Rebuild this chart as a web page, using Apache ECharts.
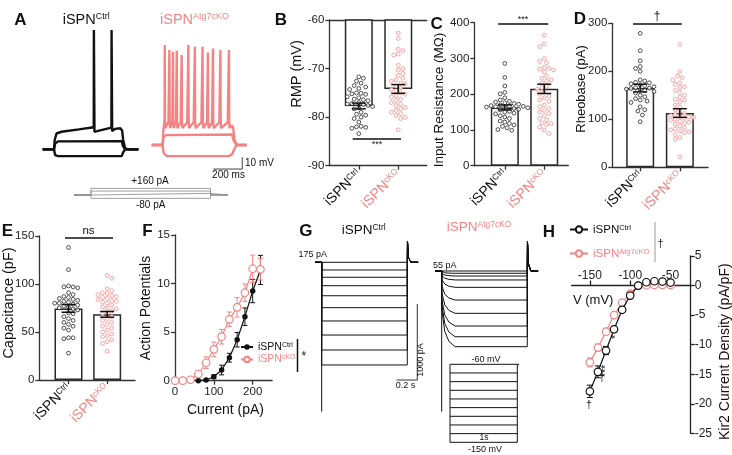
<!DOCTYPE html>
<html>
<head>
<meta charset="utf-8">
<script src="https://cdn.jsdelivr.net/npm/echarts@6.0.0/dist/echarts.min.js"></script>
<style>html,body{margin:0;padding:0;background:#fff;}#chart{width:732px;height:455px;}</style>
</head>
<body>
<div id="chart"></div>
<script>
// ================= DATA =================
const groupPos = [1, 2];
const groupMain = ['iSPN', 'iSPN'];
const groupSup = ['Ctrl', 'cKO'];

// B: RMP (mV)
const rmpMean = [-77.7, -74.2];
const rmpSem = [0.6, 0.9];
const rmpCtrl = [-71.7,-72.0,-72.6,-73.0,-73.5,-73.8,-74.1,-74.3,-75.0,-75.1,-75.2,-75.3,-75.8,-76.0,-76.3,-76.4,-76.6,-77.0,-77.2,-77.3,-77.4,-77.6,-77.8,-78.1,-78.3,-79.0,-79.4,-79.6,-80.0,-80.3,-81.0,-81.9,-82.0,-82.1,-82.3,-83.4];
const rmpCko = [-62.7,-63.8,-66.0,-66.3,-67.0,-67.2,-69.3,-70.0,-70.3,-71.0,-71.4,-72.0,-72.3,-72.6,-73.0,-73.2,-73.6,-74.0,-74.3,-74.6,-75.0,-75.3,-75.6,-75.8,-76.3,-76.6,-77.0,-77.3,-77.6,-78.0,-78.3,-78.6,-79.0,-79.3,-79.6,-80.0,-80.3,-82.6];
// C: Input resistance (MOhm)
const rinMean = [163, 215];
const rinSem = [7, 13];
const rinCtrl = [286,247,223,205,201,190,184,180,178,176,174,172,170,168,167,166,165,164,163,162,160,158,156,152,150,147,145,140,136,132,125,122,118,114,110,106,101,99];
const rinCko = [365,341,333,300,292,288,275,272,270,268,262,250,245,240,236,232,222,218,214,206,200,195,190,184,180,170,165,160,155,150,146,140,132,128,120,118,115,108,100,90];
// D: Rheobase (pA)
const rheoMean = [165, 113];
const rheoSem = [8, 9];
const rheoCtrl = [279,243,222,210,206,200,182,180,177,176,174,172,170,168,166,165,164,163,162,160,158,155,150,147,143,140,138,135,126,120,117,109,95];
const rheoCko = [256,199,190,187,182,176,173,168,166,160,156,150,146,142,140,136,130,126,120,116,112,110,108,106,105,104,102,100,98,96,94,92,90,86,82,80,78,76,74,72,68,62,58,22];
// E: Capacitance (pF)
const capMean = [74.6, 68.4];
const capSem = [4, 3];
const capCtrl = [138,115,98,97,97,96,91,89,87,86,85,84,83,82,81,80,80,79,78,77,76,75,74,73,70,69,66,64,62,60,58,56,54,52,44,44,43,28];
const capCko = [109,106,95,93,91,90,89,88,87,86,85,84,83,82,81,80,78,76,75,74,72,70,69,66,64,62,60,58,56,54,52,50,48,46,45,42,40,38,30];
// F: Action potentials vs current
const fCurrent = [0,20,40,60,80,100,120,140,160,180,200,220];
const fCtrl = [0,0,0,0,0.07,0.41,1.1,2.37,4.22,6.59,9.23,11.4];
const fCtrlSem = [0,0,0,0,0.05,0.2,0.5,0.45,0.75,0.9,1.2,1.5];
const fCko = [0,0,0.1,0.69,1.85,3.23,4.53,6.32,7.55,9.06,11.53,11.47];
const fCkoSem = [0,0,0.1,0.35,0.6,0.75,0.75,0.75,1.0,0.9,1.4,1.1];
// H: Kir2 current density (pA/pF) vs V (mV)
const hVolt = [-150,-140,-130,-120,-110,-100,-90,-80,-70,-60,-50];
const hCtrl = [-17.9,-14.6,-11.0,-7.4,-4.1,-1.7,0,0.56,0.73,0.68,0.51];
const hCtrlSem = [1.05,1.0,0.7,0.5,0.35,0.25,0.1,0.1,0.1,0.1,0.1];
const hCko = [-13.0,-10.5,-7.8,-5.0,-2.9,-1.35,0,0.05,0.1,0.1,0.1];
const hCkoSem = [0.75,0.6,0.5,0.4,0.3,0.2,0.1,0.1,0.1,0.1,0.1];

// A: example voltage traces [ms, mV]
const aCtrlTop = [[0,-80],[78,-80],[83,-72],[95,-66.5],[130,-65],[250,-63],[352,-61.2],[353,22],[356,22],[357,-65],[375,-64.5],[474,-61.5],[475,22],[478,22],[479,-64.5],[500,-62.5],[535,-62],[548,-64],[555,-72],[568,-79],[585,-80],[660,-80]];
const aCtrlMid = [[0,-80],[78,-80],[86,-75],[105,-73.2],[545,-73],[553,-77],[568,-80],[660,-80]];
const aCtrlLow = [[0,-80],[78,-80],[86,-85],[105,-85.8],[545,-85.8],[553,-83],[568,-80],[660,-80]];
const aCkoTop = [[0,-80],[75,-80],[80,-68],[86,-61],[89,-59],[90,5.5],[92,-60],[95,-65.5],[116,-60],[121,-59],[122,1.2],[124,-60],[127,-65.5],[142,-60],[146,-59],[147,-0.5],[149,-60],[152,-65.5],[168,-60],[172,-59],[173,0.5],[175,-60],[178,-65.5],[200,-60.5],[206,-59],[207,-3],[209,-60],[212,-65.5],[245,-60.5],[252,-59],[253,5.5],[255,-60],[258,-65.5],[290,-60.5],[297,-59],[298,4],[300,-60],[303,-65.5],[343,-60.5],[350,-59],[351,4],[353,-60],[356,-65.5],[382,-60.5],[387,-59],[388,-1],[390,-60],[393,-65.5],[417,-60.5],[422,-59],[423,2.5],[425,-60],[428,-65.5],[467,-60.5],[473,-59],[474,1.2],[476,-60],[479,-65.5],[525,-60.5],[532,-59],[533,1.2],[535,-60],[538,-65.5],[555,-63],[563,-66],[572,-76],[590,-80],[655,-80]];
const aCkoMid = [[0,-80],[75,-80],[83,-73],[100,-71.5],[555,-71],[565,-76],[585,-80],[655,-80]];
const aCkoLow = [[0,-80],[75,-80],[83,-87],[105,-89.5],[530,-89.5],[555,-88],[568,-84],[585,-80],[655,-80]];
const aScaleBar = [[425,-100.5],[625,-100.5],[625,-90.5]]; // 200 ms, 10 mV
// A: current-step protocol (pA)
const stimAmps = [160, 95, 40, -80];
const stimOn = 71, stimOff = 571, stimEnd = 644;

// G: Kir2 current traces (pA)
const gOn = 65, gOff = 895, gEnd = 1000;
const gCtrlLevels = [0,-101,-197,-308,-440,-597,-772,-957,-1154,-1351];
const gCkoLevels = [0,-30,-66,-118,-215,-382,-557,-724,-865,-996];
const gCtrlTransient = -1966, gCkoTransient = -1851;
const gCtrlOffPeak = 275, gCkoOffPeak = 385;
const gCkoOnsetShape = [[0,0.5],[30,0.8],[70,0.93],[130,1]];
const gScaleBar = [[792,-1549],[992,-1549],[992,-549]]; // 0.2 s, 1000 pA
const gProtoLevels = [-60,-70,-80,-90,-100,-110,-120,-130,-140,-150];
const gProtoDur = 1000;

// ================= STYLE / LAYOUT =================
const FONT = "'Liberation Sans', Arial, Helvetica, sans-serif";
const INK = '#111';
const PINK = '#f48484';
const AXC = '#333';

const grids = [
  {left:42.7, top:26.45, width:95.7, height:152.1},
  {left:151.7, top:22.2, width:94.9, height:152.1},
  {left:74, top:187.5, width:154, height:11.7},
  {left:329.3, top:20, width:97.4, height:145.7},
  {left:474.3, top:22.7, width:94, height:143},
  {left:612.3, top:23.3, width:95.7, height:144},
  {left:39.3, top:236, width:95.7, height:144},
  {left:175, top:235, width:97.1, height:145.7},
  {left:315, top:231.9, width:103.1, height:182.4},
  {left:435, top:240.6, width:103.1, height:182.4},
  {left:450, top:364.3, width:67.3, height:78},
  {left:571.7, top:256, width:119, height:177.3}
].map(g => Object.assign({outerBoundsMode:'none', containLabel:false, show:false}, g));

const axLine = {show:true, onZero:false, lineStyle:{color:AXC, width:1.3}};
const axTick = {show:true, length:4, lineStyle:{color:AXC, width:1.3}};
const tickFont = {fontSize:11.5, color:'#222', fontFamily:FONT};

const richFor = (size, sup) => ({
  k:{fontSize:size, color:INK, fontFamily:FONT},
  ks:{fontSize:sup, color:INK, fontFamily:FONT, verticalAlign:'top'},
  p:{fontSize:size, color:PINK, fontFamily:FONT},
  ps:{fontSize:sup, color:PINK, fontFamily:FONT, verticalAlign:'top'}
});
const gRich = (size, sup) => ({
  k:{fontSize:size, fill:INK, fontFamily:FONT},
  ks:{fontSize:sup, fill:INK, fontFamily:FONT, verticalAlign:'top'},
  p:{fontSize:size, fill:PINK, fontFamily:FONT},
  ps:{fontSize:sup, fill:PINK, fontFamily:FONT, verticalAlign:'top'}
});
function catFmt(v) {
  const i = groupPos.indexOf(Math.round(v));
  if (i < 0) return '';
  return i === 0 ? '{k|' + groupMain[0] + '}{ks|' + groupSup[0] + '}' : '{p|' + groupMain[1] + '}{ps|' + groupSup[1] + '}';
}

const hid = (g, min, max) => ({type:'value', gridIndex:g, min, max, show:false, splitLine:{show:false}});
const catX = (g, min, max) => ({type:'value', gridIndex:g, min, max, axisLine:axLine,
  axisTick:Object.assign({customValues:groupPos}, axTick),
  axisLabel:{customValues:groupPos, rotate:45, margin:6, formatter:catFmt, rich:richFor(14, 8.5)},
  splitLine:{show:false}});
const valY = (g, min, max, interval) => ({type:'value', gridIndex:g, min, max, interval, axisLine:axLine, axisTick:axTick,
  axisLabel:Object.assign({margin:5}, tickFont), splitLine:{show:false}});

// H: x axis drawn through y = 0
const hYMin = -25, hYMax = 5;
const hXOffset = -grids[11].height * (0 - hYMin) / (hYMax - hYMin);

const xAxes = [
  hid(0, 0, 660), hid(1, 0, 655), hid(2, 0, stimEnd),
  catX(3, 0.253, 2.72), catX(4, 0.226, 2.61), catX(5, 0.297, 2.71), catX(6, 0.245, 2.72),
  {type:'value', gridIndex:7, min:0, max:250, axisLine:axLine,
    axisTick:Object.assign({customValues:[0,100,200]}, axTick),
    axisLabel:Object.assign({customValues:[0,100,200], margin:5}, tickFont), splitLine:{show:false}},
  hid(8, 0, gEnd), hid(9, 0, gEnd), hid(10, 0, gProtoDur),
  {type:'value', gridIndex:11, min:-172.5, max:-25, position:'bottom', offset:hXOffset,
    axisLine:{show:true, onZero:false, lineStyle:{color:'#222', width:1.3}},
    axisTick:{show:true, inside:true, length:5, customValues:[-150,-100,-50], lineStyle:{color:'#222', width:1.3}},
    axisLabel:Object.assign({inside:true, margin:4, customValues:[-150,-100,-50]}, tickFont, {fontSize:12}), splitLine:{show:false}},
  // B top frame line
  {type:'value', gridIndex:3, position:'top', min:0.253, max:2.72, axisLine:axLine, axisTick:{show:false}, axisLabel:{show:false}, splitLine:{show:false}}
];
const yAxes = [
  hid(0, -105, 25), hid(1, -105, 25), hid(2, -100, 180),
  valY(3, -90, -60, 10), valY(4, 0, 400, 100), valY(5, 0, 300, 100), valY(6, 0, 150, 50),
  valY(7, 0, 15, 5),
  hid(8, -2000, 400), hid(9, -2000, 400), hid(10, -150, -60),
  {type:'value', gridIndex:11, position:'right', min:hYMin, max:hYMax, interval:5,
    axisLine:{show:true, onZero:false, lineStyle:{color:'#222', width:1.3}},
    axisTick:{show:true, length:4, lineStyle:{color:'#222', width:1.3}},
    axisLabel:Object.assign({margin:4}, tickFont, {fontSize:12}), splitLine:{show:false}}
];

// ================= SERIES =================
const series = [];
const trace = (g, data, color, w, name) => ({type:'line', name, xAxisIndex:g, yAxisIndex:g, data, symbol:'none', showSymbol:false,
  clip:false, silent:true, lineStyle:{color, width:w}, itemStyle:{color}, z:2});

// A
[aCtrlLow, aCtrlMid, aCtrlTop].forEach(d => series.push(trace(0, d, INK, 2.4)));
[aCkoLow, aCkoMid, aCkoTop].forEach(d => series.push(trace(1, d, PINK, 2.4)));
series.push(trace(1, aScaleBar, '#444', 1));
stimAmps.forEach(a => series.push(trace(2, [[0,0],[stimOn,0],[stimOn,a],[stimOff,a],[stimOff,0],[stimEnd,0]], '#888', 0.8)));

// error bars
function errRender(capW, color, lw) {
  return function (params, api) {
    const x = api.value(0), lo = api.value(1), hi = api.value(2);
    const p1 = api.coord([x, lo]), p2 = api.coord([x, hi]);
    const st = {stroke: color, lineWidth: lw};
    return {type:'group', children:[
      {type:'line', shape:{x1:p1[0], y1:p1[1], x2:p2[0], y2:p2[1]}, style:st},
      {type:'line', shape:{x1:p1[0]-capW/2, y1:p1[1], x2:p1[0]+capW/2, y2:p1[1]}, style:st},
      {type:'line', shape:{x1:p2[0]-capW/2, y1:p2[1], x2:p2[0]+capW/2, y2:p2[1]}, style:st}
    ]};
  };
}
const errSeries = (g, data, cap, color, lw) => ({type:'custom', xAxisIndex:g, yAxisIndex:g, data, renderItem:errRender(cap, color, lw),
  encode:{x:0, y:[1,2]}, silent:true, clip:false, z:4});

const openDot = (color, bw) => ({color:'#fff', borderColor:color, borderWidth:bw});

// beeswarm offsets (pixels) computed from the values
function swarm(vals, pxPerUnit, gap) {
  const order = vals.map((v, i) => i).sort((a, b) => vals[b] - vals[a]);
  const placed = [];
  const offs = new Array(vals.length).fill(0);
  order.forEach((i, n) => {
    const y = vals[i] * pxPerUnit;
    for (let k = 0; k < 60; k++) {
      const mag = Math.ceil(k / 2) * gap / 2;
      const sgn = ((k % 2) ? 1 : -1) * ((n % 2) ? 1 : -1);
      const x = k === 0 ? 0 : mag * sgn;
      if (placed.every(p => (p[0]-x)*(p[0]-x) + (p[1]-y)*(p[1]-y) >= gap*gap)) {
        placed.push([x, y]); offs[i] = x; break;
      }
    }
  });
  return offs;
}
function barPanel(g, yMin, yMax, mean, sem, ctrl, cko, sig) {
  const ppu = grids[g].height / (yMax - yMin);
  series.push({type:'bar', xAxisIndex:g, yAxisIndex:g, barWidth:28, silent:true,
    data: groupPos.map((p, i) => [p, mean[i]]),
    itemStyle:{color:'#fff', borderColor:'#2a2a2a', borderWidth:1.5}, z:2});
  [[ctrl, INK, 0], [cko, PINK, 1]].forEach(([vals, color, gi]) => {
    const offs = swarm(vals, ppu, 4.6);
    const s = {type:'scatter', xAxisIndex:g, yAxisIndex:g, silent:true, symbol:'circle', symbolSize:3.8,
      itemStyle:openDot(color, 0.9), z:3,
      data: vals.map((v, i) => ({value:[groupPos[gi], v], symbolOffset:[offs[i], 0]}))};
    if (gi === 0) {
      s.markLine = {silent:true, symbol:['none','none'], animation:false, label:{show:false},
        lineStyle:{color:INK, width:1.5, type:'solid'},
        data:[[{coord:[sig[0], sig[2]]}, {coord:[sig[1], sig[2]]}]]};
    }
    series.push(s);
  });
  series.push(errSeries(g, groupPos.map((p, i) => [p, mean[i]-sem[i], mean[i]+sem[i]]), 14, INK, 1.5));
}
barPanel(3, -90, -60, rmpMean, rmpSem, rmpCtrl, rmpCko, [0.846, 2.07, -84.4]);
barPanel(4, 0, 400, rinMean, rinSem, rinCtrl, rinCko, [0.83, 2.10, 396]);
barPanel(5, 0, 300, rheoMean, rheoSem, rheoCtrl, rheoCko, [0.82, 2.05, 298.6]);
barPanel(6, 0, 150, capMean, capSem, capCtrl, capCko, [0.91, 2.15, 148.6]);

// F
series.push(errSeries(7, fCurrent.map((x, i) => [x, fCtrl[i]-fCtrlSem[i], fCtrl[i]+fCtrlSem[i]]).filter((d, i) => fCtrlSem[i] > 0.15), 5, INK, 1));
series.push(errSeries(7, fCurrent.map((x, i) => [x, fCko[i]-fCkoSem[i], fCko[i]+fCkoSem[i]]).filter((d, i) => fCkoSem[i] > 0.15), 5, PINK, 1));
series.push({type:'line', name:'F Ctrl', xAxisIndex:7, yAxisIndex:7, data:fCurrent.map((x, i) => [x, fCtrl[i]]),
  symbol:'circle', symbolSize:5.5, showSymbol:true, lineStyle:{color:INK, width:1.2}, itemStyle:{color:INK}, silent:true, z:5});
series.push({type:'line', name:'F cKO', xAxisIndex:7, yAxisIndex:7, data:fCurrent.map((x, i) => [x, fCko[i]]),
  symbol:'circle', symbolSize:7.5, showSymbol:true, lineStyle:{color:PINK, width:1.2}, itemStyle:openDot(PINK, 1.2), silent:true, z:6});

// G traces
gCtrlLevels.forEach(L => series.push(trace(8,
  [[0,0],[gOn,0],[gOn,L],[gOff,L],[gOff+2,gCtrlOffPeak],[gOff+10,gCtrlOffPeak*0.25],[gOff+35,0],[gEnd,0]], INK, 1)));
series.push(trace(8, [[gOn,0],[gOn,gCtrlTransient]], INK, 1));
series.push(trace(8, gScaleBar, '#333', 1));
gCkoLevels.forEach(L => series.push(trace(9,
  [[0,0],[gOn,0]].concat(gCkoOnsetShape.map(([dt, f]) => [gOn+dt, L*f])).concat(
  [[gOff,L],[gOff+2,gCkoOffPeak],[gOff+10,gCkoOffPeak*0.25],[gOff+35,0],[gEnd,0]]), INK, 1)));
series.push(trace(9, [[gOn,0],[gOn,gCkoTransient]], INK, 1));
// G protocol
gProtoLevels.forEach((L, i) => series.push(trace(10, [[0,L],[i === 0 ? gProtoDur*1.065 : gProtoDur, L]], INK, 1)));
series.push(trace(10, [[0,gProtoLevels[0]],[0,gProtoLevels[gProtoLevels.length-1]]], INK, 1));
series.push(trace(10, [[gProtoDur,gProtoLevels[0]],[gProtoDur,gProtoLevels[gProtoLevels.length-1]]], INK, 1));

// H
series.push(errSeries(11, hVolt.map((x, i) => [x, hCko[i]-hCkoSem[i], hCko[i]+hCkoSem[i]]), 6, PINK, 1));
series.push({type:'line', name:'H cKO', xAxisIndex:11, yAxisIndex:11, data:hVolt.map((x, i) => [x, hCko[i]]),
  symbol:'circle', symbolSize:7.5, showSymbol:true, lineStyle:{color:PINK, width:1.2}, itemStyle:openDot(PINK, 1.2), silent:true, z:5});
series.push(errSeries(11, hVolt.map((x, i) => [x, hCtrl[i]-hCtrlSem[i], hCtrl[i]+hCtrlSem[i]]), 6, INK, 1));
series.push({type:'line', name:'H Ctrl', xAxisIndex:11, yAxisIndex:11, data:hVolt.map((x, i) => [x, hCtrl[i]]),
  symbol:'circle', symbolSize:7.5, showSymbol:true, lineStyle:{color:INK, width:1.2}, itemStyle:openDot(INK, 1.2), silent:true, z:6});

// ================= TEXT / ANNOTATIONS =================
const T = (x, y, text, o = {}) => ({type:'text', x, y, rotation:o.rot || 0, silent:true, z:10,
  style:{text, fill:o.color || INK, fontSize:o.size || 11, fontFamily:FONT, fontWeight:o.bold ? 'bold' : 'normal',
    align:o.align || 'center', verticalAlign:o.va || 'middle', rich:o.rich}});
const Ln = (x1, y1, x2, y2, color, w) => ({type:'line', silent:true, z:10, shape:{x1, y1, x2, y2}, style:{stroke:color, lineWidth:w}});
const R90 = Math.PI / 2;

const graphic = [
  T(20.3, 20, 'A', {size:17, bold:true}), T(281, 20, 'B', {size:17, bold:true}), T(436.7, 24, 'C', {size:17, bold:true}),
  T(580, 19, 'D', {size:17, bold:true}), T(7.5, 231, 'E', {size:17, bold:true}), T(147.5, 231, 'F', {size:17, bold:true}),
  T(305.8, 231, 'G', {size:17, bold:true}), T(549, 232.5, 'H', {size:17, bold:true}),
  T(62.7, 20, '{k|iSPN}{ks|Ctrl}', {align:'left', rich:gRich(14.5, 9)}),
  T(160, 20, '{p|iSPN}{ps|Atg7cKO}', {align:'left', rich:gRich(14.5, 9)}),
  T(341.7, 230, '{k|iSPN}{ks|Ctrl}', {align:'left', rich:gRich(13.5, 8.5)}),
  T(446.7, 227.5, '{p|iSPN}{ps|Atg7cKO}', {align:'left', rich:gRich(13.5, 8.5)}),
  T(245, 163.5, '10 mV', {align:'left', size:10}),
  T(228.5, 175.5, '200 ms', {size:10}),
  T(150, 181.5, '+160 pA', {size:10}),
  T(150.7, 205.5, '-80 pA', {size:10}),
  T(298.5, 254.5, '175 pA', {align:'left', size:9}),
  T(433, 266, '55 pA', {align:'left', size:9}),
  T(405.5, 386, '0.2 s', {size:9}),
  T(421, 360, '1000 pA', {size:9, rot:R90}),
  T(486, 359.5, '-60 mV', {size:9}),
  T(484, 437.5, '1s', {size:8.5}),
  T(485, 449.5, '-150 mV', {size:9}),
  // axis names
  T(297, 74, 'RMP (mV)', {size:14.5, rot:R90}),
  T(439, 100, 'Input Resistance (MΩ)', {size:13.5, rot:R90}),
  T(581.5, 89, 'Rheobase (pA)', {size:13, rot:R90}),
  T(9, 303, 'Capacitance (pF)', {size:14.5, rot:R90}),
  T(146.5, 308, 'Action Potentials', {size:14, rot:R90}),
  T(225.5, 410, 'Current (pA)', {size:14}),
  T(573, 300, 'V (mV)', {align:'left', size:13}),
  T(725, 351.7, 'Kir2 Current Density (pA/pF)', {size:14, rot:R90}),
  // significance
  T(376.9, 144.5, '***', {size:9}),
  T(523, 20, '***', {size:9}),
  T(657, 17, '†', {size:12}),
  T(88.5, 231, 'ns', {size:11.5}),
  Ln(297.5, 339, 297.5, 372, INK, 1.5), T(301.5, 357, '*', {size:12, align:'left'}),
  Ln(655, 222, 655, 262, '#999', 1), T(660.5, 244, '†', {size:11}),
  T(589, 405, '†', {size:10.5}), T(602, 378, '†', {size:10.5}),
  T(606, 371, '***', {size:10.5, rot:R90}), T(616, 337, '*', {size:10.5, rot:R90})
];

const legFmt = {
  'F Ctrl':'{k|iSPN}{ks|Ctrl}', 'F cKO':'{p|iSPN}{ps|cKO}',
  'H Ctrl':'{k|iSPN}{ks|Ctrl}', 'H cKO':'{p|iSPN}{ps|Atg7cKO}'
};
const option = {
  animation:false,
  textStyle:{fontFamily:FONT},
  grid:grids, xAxis:xAxes, yAxis:yAxes, series, graphic,
  legend:[
    {data:['F Ctrl','F cKO'], orient:'vertical', left:240, top:341.5, itemWidth:12, itemHeight:7, itemGap:1.5, padding:0,
      selectedMode:false, formatter:n => legFmt[n], textStyle:{rich:richFor(10.5, 7)}},
    {data:['H Ctrl','H cKO'], orient:'vertical', left:569, top:223.5, itemWidth:18, itemHeight:8, itemGap:12, padding:0,
      selectedMode:false, formatter:n => legFmt[n], textStyle:{rich:richFor(11.5, 7.5)}}
  ]
};
const chart = echarts.init(document.getElementById('chart'), null, {renderer:'canvas'});
chart.setOption(option);
</script>
</body>
</html>
